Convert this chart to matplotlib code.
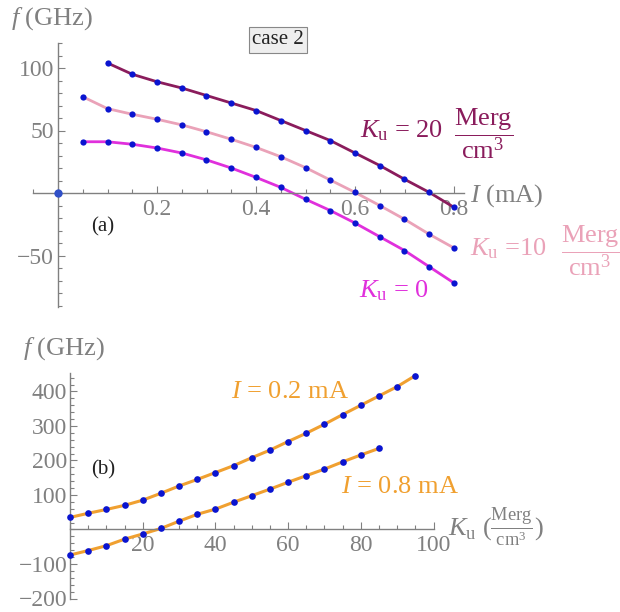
import matplotlib
matplotlib.use("Agg")
import matplotlib.pyplot as plt
from matplotlib.ticker import FixedLocator, MultipleLocator

plt.rcParams['font.family'] = 'Liberation Serif'
plt.rcParams['mathtext.fontset'] = 'custom'
plt.rcParams['mathtext.rm'] = 'Liberation Serif'
plt.rcParams['mathtext.it'] = 'Liberation Serif:italic'

# panel (a): f vs I
current_a = [0.05, 0.10, 0.15, 0.20, 0.25, 0.30, 0.35, 0.40,
             0.45, 0.50, 0.55, 0.60, 0.65, 0.70, 0.75, 0.80]
f_ku0 = [41, 41, 39, 36, 32, 26.5, 20, 12.5, 4.5, -5, -14, -24, -35, -46, -59, -72]
f_ku10 = [77, 67.5, 63, 59, 54.5, 49, 43, 36.5, 29, 20.3, 10.4, 0.5, -10, -21, -33, -44]
current_a20 = current_a[1:]
f_ku20 = [104, 95, 89, 84, 78, 72, 66, 58, 50, 42, 32, 22, 11, 0.5, -11.5]

# panel (b): f vs Ku
ku_i02 = [0, 5, 10, 15, 20, 25, 30, 35, 40, 45, 50, 55, 60, 65, 70, 75, 80, 85, 90, 95]
f_i02 = [35, 47, 58, 70, 85, 105, 126, 145, 165, 185, 208, 230, 255, 279, 305, 333, 360, 387, 414, 446]
ku_i08 = [0, 5, 10, 15, 20, 25, 30, 35, 40, 45, 50, 55, 60, 65, 70, 75, 80, 85]
f_i08 = [-74, -61, -47, -28, -13, 3, 24, 44, 59, 79, 98, 117, 137, 156, 175, 196, 216, 235]

W, H = 620, 612
fig = plt.figure(figsize=(W / 100, H / 100), dpi=100)


def px(x, y):
    return x / W, 1 - y / H


gray = '#808080'
dot = '#0a14d0'
c20, c10, c0 = '#8a1c5c', '#eaa2b8', '#e030dc'
orange = '#f0a030'
tick_fs = 17


def style_axes(ax):
    for s in ['top', 'right']:
        ax.spines[s].set_visible(False)
    for s in ['left', 'bottom']:
        ax.spines[s].set_position(('data', 0))
        ax.spines[s].set_color(gray)
        ax.spines[s].set_linewidth(1.0)
    ax.tick_params(which='both', direction='in', colors=gray, labelcolor=gray,
                   labelsize=tick_fs, width=0.8)
    ax.tick_params(which='major', length=5)
    ax.tick_params(which='minor', length=3)
    ax.patch.set_alpha(0)


# ---- top panel
ax1 = fig.add_axes([33.25 / W, 1 - 306.75 / H, (463.9 - 33.25) / W, (306.75 - 43) / H])
ax1.set_xlim(-0.05, 0.82)
ax1.set_ylim(-91, 120)
style_axes(ax1)
ax1.xaxis.set_major_locator(FixedLocator([0.2, 0.4, 0.6, 0.8]))
ax1.xaxis.set_minor_locator(MultipleLocator(0.05))
ax1.yaxis.set_major_locator(FixedLocator([-50, 50, 100]))
ax1.yaxis.set_minor_locator(MultipleLocator(10))
ax1.set_xticklabels(['0.2', '0.4', '0.6', '0.8'])
ax1.set_yticklabels(['\u221250', '50', '100'])
ax1.tick_params(axis='x', pad=4)
ax1.tick_params(axis='y', pad=3)

ax1.plot(current_a20, f_ku20, color=c20, lw=2.0, zorder=2)
ax1.plot(current_a, f_ku10, color=c10, lw=2.0, zorder=2)
ax1.plot(current_a, f_ku0, color=c0, lw=2.0, zorder=2)
for xs, ys in [(current_a20, f_ku20), (current_a, f_ku10), (current_a, f_ku0)]:
    ax1.plot(xs, ys, 'o', color=dot, ms=4.5, mec='none', zorder=3)
ax1.plot([0], [0], 'o', color='#3050c8', ms=6, mec='none', zorder=3, clip_on=False)

# ---- bottom panel
ax2 = fig.add_axes([70 / W, 1 - 598.5 / H, 363.5 / W, (598.5 - 372.5) / H])
ax2.set_xlim(0, 100)
ax2.set_ylim(-200, 455)
style_axes(ax2)
ax2.xaxis.set_major_locator(FixedLocator([20, 40, 60, 80, 100]))
ax2.xaxis.set_minor_locator(MultipleLocator(5))
ax2.yaxis.set_major_locator(FixedLocator([-200, -100, 100, 200, 300, 400]))
ax2.yaxis.set_minor_locator(MultipleLocator(20))
ax2.set_xticklabels(['20', '40', '60', '80', '100'])
ax2.set_yticklabels(['\u2212200', '\u2212100', '100', '200', '300', '400'])
ax2.tick_params(axis='x', pad=4)
ax2.tick_params(axis='y', pad=2)

for xs, ys in [(ku_i02, f_i02), (ku_i08, f_i08)]:
    ax2.plot(xs, ys, color=orange, lw=2.2, zorder=2, clip_on=False)
    ax2.plot(xs, ys, 'o', color=dot, ms=4.8, mec='none', zorder=3, clip_on=False)

# ---- texts
lab_fs = 19
fig.text(*px(11, 25), r'$f$ (GHz)', color=gray, fontsize=lab_fs, va='baseline', ha='left')
fig.text(*px(470, 202), r'$I$ (mA)', color=gray, fontsize=lab_fs, va='baseline', ha='left')
fig.text(*px(278, 40), 'case 2', color='#222222', fontsize=15, va='center', ha='center',
         bbox=dict(boxstyle='square,pad=0.15', fc='#eeeeee', ec='#888888', lw=0.8))
fig.text(*px(103, 227), '(a)', color='#222222', fontsize=15, va='center', ha='center')
fig.text(*px(103, 470), '(b)', color='#222222', fontsize=15, va='center', ha='center')

fig.text(*px(360, 137), r'$K_{\mathrm{u}}$ = 20', color=c20, fontsize=lab_fs,
         va='baseline', ha='left')
fig.text(*px(484, 134), r'$\dfrac{\mathrm{Merg}}{\mathrm{cm}^3}$', color=c20, fontsize=lab_fs,
         va='center', ha='center')
fig.text(*px(470, 255), r'$K_{\mathrm{u}}$ =10', color=c10, fontsize=lab_fs,
         va='baseline', ha='left')
fig.text(*px(591, 251), r'$\dfrac{\mathrm{Merg}}{\mathrm{cm}^3}$', color=c10, fontsize=lab_fs,
         va='center', ha='center')
fig.text(*px(359, 297), r'$K_{\mathrm{u}}$ = 0', color=c0, fontsize=lab_fs,
         va='baseline', ha='left')

fig.text(*px(23, 355), r'$f$ (GHz)', color=gray, fontsize=lab_fs, va='baseline', ha='left')
fig.text(*px(448, 537), r'$K_{\mathrm{u}}\ (\frac{\mathrm{Merg}}{\mathrm{cm}^3})$',
         color=gray, fontsize=lab_fs, va='baseline', ha='left')
fig.text(*px(231, 398), r'$I$ = 0.2 mA', color=orange, fontsize=lab_fs, va='baseline', ha='left')
fig.text(*px(341, 493), r'$I$ = 0.8 mA', color=orange, fontsize=lab_fs, va='baseline', ha='left')

fig.savefig('out.png', dpi=100)
